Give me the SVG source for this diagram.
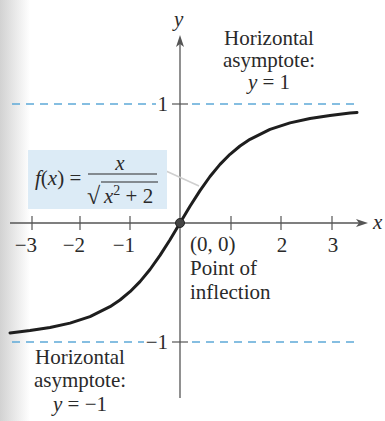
<svg xmlns="http://www.w3.org/2000/svg" width="385" height="421" viewBox="0 0 385 421">
<defs>
<linearGradient id="gutter" x1="0" y1="0" x2="1" y2="0">
<stop offset="0" stop-color="#d2d2d2"/>
<stop offset="1" stop-color="#ffffff"/>
</linearGradient>
<style>
text{font-family:'Liberation Serif','DejaVu Serif',serif;font-size:21px;fill:#2a2a2a}
.i{font-style:italic}
.axis{stroke:#555;stroke-width:1.3;fill:none}
.tick{stroke:#555;stroke-width:1.2}
.asym{stroke:#5ea9d8;stroke-width:1.5;stroke-dasharray:8 6;fill:none}
.curve{stroke:#1e1e1e;stroke-width:3;fill:none;stroke-linejoin:round;stroke-linecap:round}
</style>
</defs>
<rect width="385" height="421" fill="#fff"/>
<rect x="0" y="0" width="30" height="421" fill="url(#gutter)"/>
<g id="connectors">
<line class="axis" x1="10" y1="223" x2="362" y2="223"/>
<path d="M368,223 L356,219 L359,223 L356,227 Z" fill="#555"/>
<line class="axis" x1="180" y1="40" x2="180" y2="398"/>
<path d="M180,35 L176,47 L180,44 L184,47 Z" fill="#555"/>
<g class="tick">
<line x1="32" y1="216" x2="32" y2="230"/>
<line x1="80" y1="216" x2="80" y2="230"/>
<line x1="130" y1="216" x2="130" y2="230"/>
<line x1="231" y1="216" x2="231" y2="230"/>
<line x1="281" y1="216" x2="281" y2="230"/>
<line x1="332" y1="216" x2="332" y2="230"/>
<line x1="172" y1="104" x2="188" y2="104"/>
<line x1="172" y1="342" x2="188" y2="342"/>
</g>
<path class="asym" d="M12,104 H156 M192,104 H358"/>
<path class="asym" d="M12,342 H144 M192,342 H358"/>
<line x1="166" y1="171" x2="199" y2="186" stroke="#cfcfcf" stroke-width="1.5"/>
</g>
<g id="curve">
<polyline class="curve" points="10,332.9 30,330.6 50,327.5 70,323.1 90,316.6 110,306.7 120,300 130,291.7 140,281.6 150,269.5 160,255.4 170,239.7 180,223 190,206.3 200,190.6 210,176.5 220,164.4 230,154.3 240,146 250,139.3 270,129.4 290,122.9 310,118.5 330,115.4 350,113.1 357,112.5"/>
</g>
<g id="origin">
<circle cx="180" cy="223" r="4.5" fill="#444" stroke="#222" stroke-width="1"/>
</g>
<g id="axis-labels">
<text class="i" x="174" y="26">y</text>
<text class="i" x="373" y="229">x</text>
<text x="168" y="111" text-anchor="end">1</text>
<text x="168" y="349" text-anchor="end">−1</text>
<text x="37" y="252" text-anchor="end">−3</text>
<text x="85" y="252" text-anchor="end">−2</text>
<text x="135" y="252" text-anchor="end">−1</text>
<text x="282" y="252" text-anchor="middle">2</text>
<text x="333" y="252" text-anchor="middle">3</text>
</g>
<g id="label-function">
<rect x="28" y="150" width="139" height="59" fill="#dcebf6"/>
<text x="35" y="185"><tspan class="i">f</tspan>(<tspan class="i">x</tspan>) =</text>
<line x1="88" y1="174" x2="157" y2="174" stroke="#2a2a2a" stroke-width="1.2"/>
<text class="i" x="120" y="170" text-anchor="middle">x</text>
<text x="87" y="204" style="font-size:24px">√</text>
<line x1="101" y1="182" x2="158" y2="182" stroke="#2a2a2a" stroke-width="1.1"/>
<text x="104" y="203"><tspan class="i">x</tspan><tspan dy="-8" style="font-size:14px">2</tspan><tspan dy="8"> + 2</tspan></text>
</g>
<g id="label-upper-asymptote">
<text x="269" y="45" text-anchor="middle">Horizontal</text>
<text x="269" y="67" text-anchor="middle">asymptote:</text>
<text x="269" y="89" text-anchor="middle"><tspan class="i">y</tspan> = 1</text>
</g>
<g id="label-inflection">
<text x="190" y="251">(0, 0)</text>
<text x="190" y="275">Point of</text>
<text x="190" y="299">inflection</text>
</g>
<g id="label-lower-asymptote">
<text x="80" y="364" text-anchor="middle">Horizontal</text>
<text x="80" y="387" text-anchor="middle">asymptote:</text>
<text x="80" y="411" text-anchor="middle"><tspan class="i">y</tspan> = −1</text>
</g>
</svg>
